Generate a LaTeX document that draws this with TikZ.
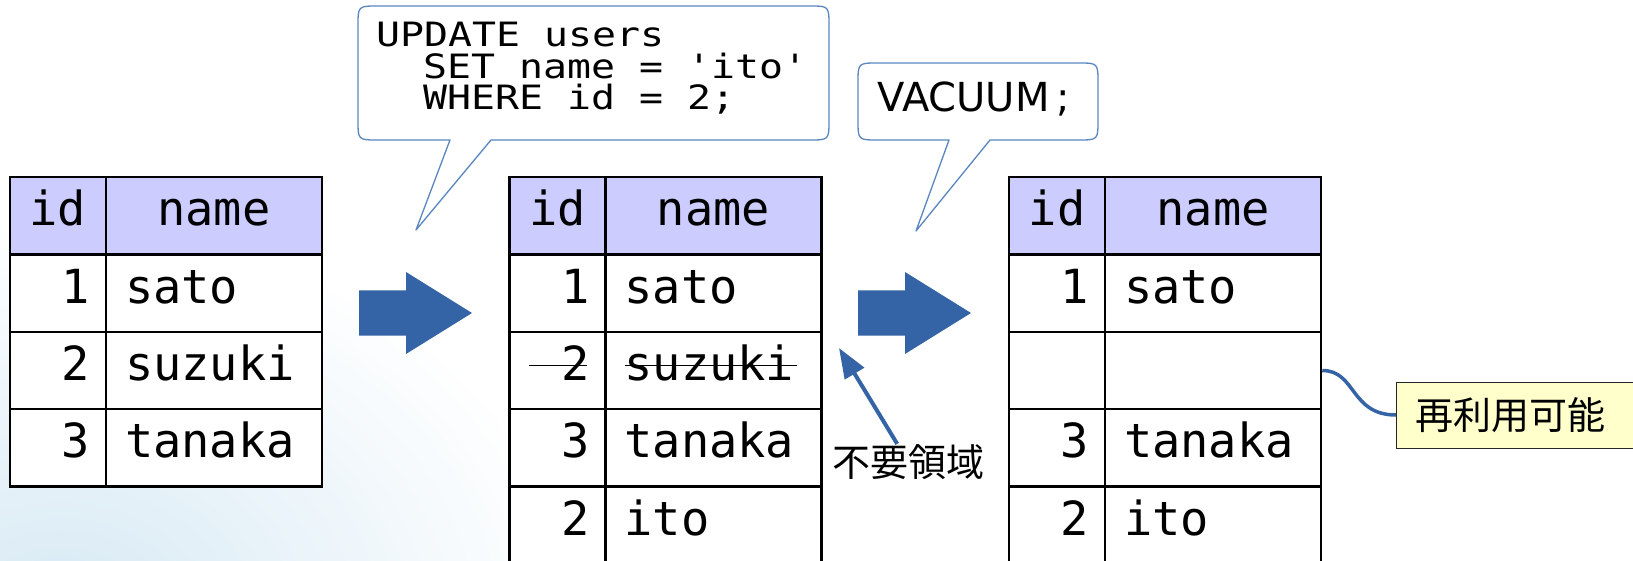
\documentclass[tikz,border=0pt]{standalone}
\usepackage{fontspec}
\usetikzlibrary{arrows.meta}
\newfontfamily\tabfont{DejaVu Sans Mono}
\newfontfamily\sqlfont[FakeStretch=1.19]{DejaVu Sans Mono}
\newfontfamily\vacfont{DejaVu Sans}
\newfontfamily\jpfont{Noto Sans CJK JP}
\definecolor{headfill}{HTML}{CCCCFF}
\definecolor{arrowblue}{HTML}{3464A5}
\definecolor{calloutline}{HTML}{5A86C0}
\definecolor{notefill}{HTML}{FFFFCC}
\definecolor{bgblue}{HTML}{D6E9F4}
\tikzset{
  cell/.style={draw=black, fill=white, line width=2.5pt, minimum height=77.4pt, inner ysep=0pt,
    text height=30pt, text depth=10pt, font=\tabfont\fontsize{47}{50}\selectfont},
  idc/.style={cell, text width=64pt, inner xsep=16pt, align=right},
  namec/.style={cell, text width=178pt, inner xsep=19pt, align=left},
  headid/.style={idc, fill=headfill, align=center},
  headname/.style={namec, fill=headfill, align=center},
  callout/.style={draw=calloutline, line width=1.3pt, fill=white, line join=round},
  sqltext/.style={anchor=base west, inner sep=0pt, font=\sqlfont\fontsize{33.5}{36}\selectfont},
  vactext/.style={anchor=base west, inner sep=0pt, font=\vacfont\fontsize{40}{44}\selectfont},
  blockarrow/.style={fill=arrowblue},
  jplabel/.style={inner sep=0pt, font=\jpfont\fontsize{38}{40}\selectfont},
  notebox/.style={draw=black!85, line width=1pt, fill=notefill, minimum height=66pt,
    text width=212pt, inner xsep=19pt, inner ysep=0pt, text height=30pt, text depth=1pt, align=left,
    font=\jpfont\fontsize{38}{40}\selectfont},
  pointer/.style={draw=arrowblue, line width=4pt, -{Triangle[length=30pt,width=22pt]}},
  link/.style={draw=arrowblue, line width=3.5pt},
}
% header row: prefix, left x
\newcommand\tabhead[2]{%
  \node[headid] (#1h0i) at (#2+48, 215.7) {id};
  \node[headname] (#1h0n) at (#2+204, 215.7) {name};}
% data row: prefix, left x, row index, id, name
\newcommand\tabrow[5]{%
  \node[idc] (#1r#3i) at (#2+48, 215.7+77.4*#3) {#4};
  \node[namec] (#1r#3n) at (#2+204, 215.7+77.4*#3) {#5};}
\newcommand\strikeid{2\llap{\rule[14.5pt]{58pt}{1.5pt}\hspace{2.5pt}}}
\newcommand\strikename{\rlap{\hspace{0.5pt}\rule[14.5pt]{172pt}{1.5pt}}suzuki}
\begin{document}
\begin{tikzpicture}[x=1pt,y=-1pt]
\useasboundingbox (0,0) rectangle (1633,561);
\clip (0,0) rectangle (1633,561);
\fill[white] (0,0) rectangle (1633,561);
% faint background
\shade[inner color=bgblue, outer color=white] (60,620) ellipse [x radius=520, y radius=400];

% callouts
\draw[callout] (450,140) -- (416,230) -- (491,140) -- (809,140) .. controls (829,140) .. (829,120)
  -- (829,26) .. controls (829,6) .. (809,6) -- (378,6) .. controls (358,6) .. (358,26)
  -- (358,120) .. controls (358,140) .. (378,140) -- cycle;
\node[sqltext] (sql1) at (376,47) {UPDATE users};
\node[sqltext] (sql2) at (423,79) {SET name = 'ito'};
\node[sqltext] (sql3) at (423,110) {WHERE id = 2;};

\draw[callout] (949,140) -- (916,231) -- (990,140) -- (1078,140) .. controls (1098,140) .. (1098,120)
  -- (1098,83) .. controls (1098,63) .. (1078,63) -- (878,63) .. controls (858,63) .. (858,83)
  -- (858,120) .. controls (858,140) .. (878,140) -- cycle;
\node[vactext] (vac) at (877,112) {VACUUM\kern7pt;};

% table 1
\tabhead{a}{10}
\tabrow{a}{10}{1}{1}{sato}
\tabrow{a}{10}{2}{2}{suzuki}
\tabrow{a}{10}{3}{3}{tanaka}

% table 2
\tabhead{b}{509.5}
\tabrow{b}{509.5}{1}{1}{sato}
\tabrow{b}{509.5}{2}{\strikeid}{\strikename}
\tabrow{b}{509.5}{3}{3}{tanaka}
\tabrow{b}{509.5}{4}{2}{ito}

% table 3
\tabhead{c}{1009}
\tabrow{c}{1009}{1}{1}{sato}
\tabrow{c}{1009}{2}{}{}
\tabrow{c}{1009}{3}{3}{tanaka}
\tabrow{c}{1009}{4}{2}{ito}

% block arrows
\fill[blockarrow] (359,290.5) -- (406,290.5) -- (406,272) -- (472,313) -- (406,354) -- (406,335.5) -- (359,335.5) -- cycle;
\fill[blockarrow] (858,290.5) -- (905,290.5) -- (905,272) -- (971,313) -- (905,354) -- (905,335.5) -- (858,335.5) -- cycle;

% unused-area label and arrow
\node[jplabel, anchor=base west] (lbl1) at (832,476) {不要領域};
\coordinate (tipA) at (839,348);
\draw[pointer] ([xshift=-11pt]lbl1.north) -- (tipA);

% reusable note
\node[notebox, anchor=west] (lbl2) at (1396,415) {再利用可能};
\draw[link] (cr2n.east) .. controls +(34,0) and +(-46,0) .. (lbl2.west);
\end{tikzpicture}
\end{document}
